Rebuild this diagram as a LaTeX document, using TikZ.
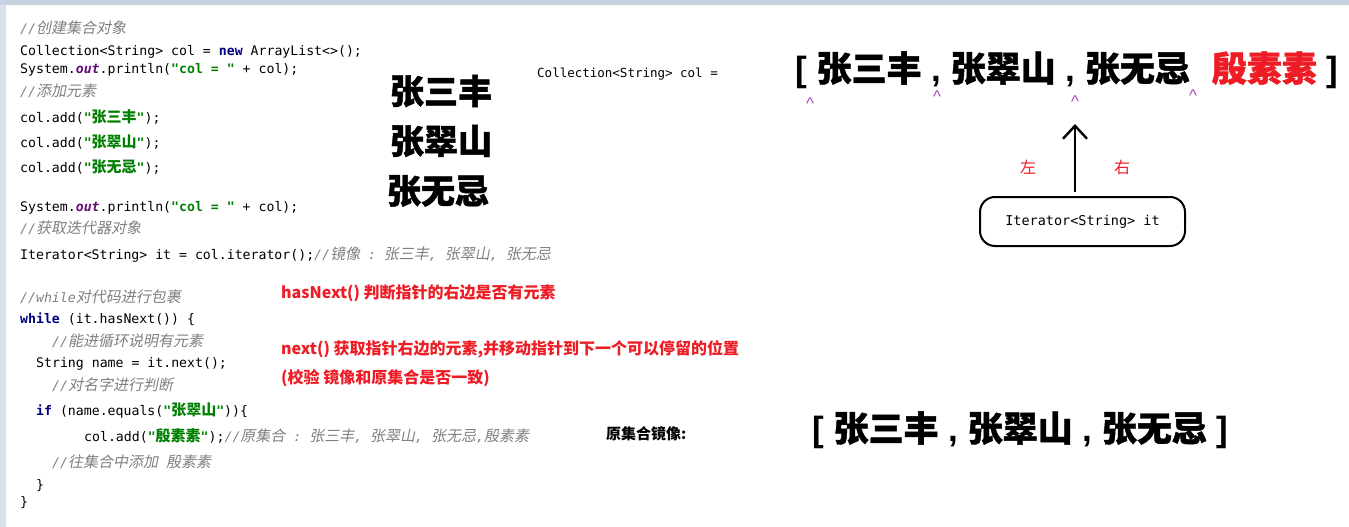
\documentclass[tikz,border=0pt]{standalone}
\usepackage{fontspec}
\usepackage{tikz}
\usetikzlibrary{arrows.meta, positioning}
\usepackage{xcolor}
\setmainfont{Liberation Sans}
\setmonofont{DejaVu Sans Mono}
\newfontfamily\cjk{Noto Sans CJK SC}
\newfontfamily\cjksl{Noto Sans CJK SC}[FakeSlant=0.2]
\newfontfamily\cjkheavy{Noto Sans CJK SC}[BoldFeatures={FakeBold=1.2}]
\definecolor{codegray}{RGB}{128, 128, 128}
\definecolor{kwnavy}{RGB}{0, 0, 128}
\definecolor{fieldpurple}{RGB}{102, 14, 122}
\definecolor{strgreen}{RGB}{0, 128, 0}
\definecolor{notered}{RGB}{238, 28, 36}
\definecolor{caretpurple}{RGB}{176, 72, 196}
\definecolor{bandtop}{RGB}{199, 209, 224}
\definecolor{bandleft}{RGB}{216, 225, 238}

% code colouring
\newcommand{\zh}[1]{{\cjkheavy #1}}
\newcommand{\zc}[1]{{\cjk\fontsize{15}{16}\selectfont #1}}
\newcommand{\zci}[1]{{\cjksl\fontsize{15}{16}\selectfont #1}}
\newcommand{\cmt}[1]{{\color{codegray}\itshape #1}}
\newcommand{\kw}[1]{{\color{kwnavy}\bfseries #1}}
\newcommand{\fld}[1]{{\color{fieldpurple}\bfseries\itshape #1}}
\newcommand{\jstr}[1]{{\color{strgreen}\bfseries #1}}

\begin{document}
\begin{tikzpicture}[x=1pt, y=-1pt]
    % Define styles
    \tikzstyle{codeline} = [anchor=base west, inner sep=0pt, font=\ttfamily\fontsize{13.2}{16}\selectfont]
    \tikzstyle{bigname} = [inner sep=0pt, font=\cjkheavy\bfseries\fontsize{34}{34}\selectfont]
    \tikzstyle{biglist} = [anchor=west, inner sep=0pt, font=\bfseries\fontsize{35}{35}\selectfont]
    \tikzstyle{note} = [anchor=west, inner sep=0pt, text=notered, font=\cjk\bfseries\fontsize{16}{18}\selectfont]
    \tikzstyle{caret} = [anchor=north, inner sep=0pt, text=caretpurple, font=\fontsize{17}{17}\selectfont]
    \tikzstyle{side} = [inner sep=0pt, text=notered, font=\cjk\fontsize{16}{16}\selectfont]
    \tikzstyle{itbox} = [draw, line width=2pt, rounded corners=15pt, minimum width=205pt, minimum height=49pt, font=\ttfamily\fontsize{13.5}{15}\selectfont]

    % Page
    \useasboundingbox (0,0) rectangle (1349,527);
    \fill[white] (0,0) rectangle (1349,527);
    \fill[bandtop] (0,0) rectangle (1349,5);
    \fill[bandleft] (0,5) rectangle (6,527);

    % Code
    \node[codeline] (l1) at (20,34) {\cmt{//\zci{创建集合对象}}};
    \node[codeline] (l2) at (20,56) {Collection<String> col = \kw{new} ArrayList<>();};
    \node[codeline] (l3) at (20,74) {System.\fld{out}.println(\jstr{"col = "} + col);};
    \node[codeline] (l4) at (20,96) {\cmt{//\zci{添加元素}}};
    \node[codeline] (l5) at (20,122) {col.add(\jstr{"\zc{张三丰}"});};
    \node[codeline] (l6) at (20,147) {col.add(\jstr{"\zc{张翠山}"});};
    \node[codeline] (l7) at (20,172) {col.add(\jstr{"\zc{张无忌}"});};
    \node[codeline] (l8) at (20,211) {System.\fld{out}.println(\jstr{"col = "} + col);};
    \node[codeline] (l9) at (20,233) {\cmt{//\zci{获取迭代器对象}}};
    \node[codeline] (l10) at (20,259) {Iterator<String> it = col.iterator();\cmt{//\zci{镜像} : \zci{张三丰}, \zci{张翠山}, \zci{张无忌}}};
    \node[codeline] (l11) at (20,302) {\cmt{//while\zci{对代码进行包裹}}};
    \node[codeline] (l12) at (20,323) {\kw{while} (it.hasNext()) \{};
    \node[codeline] (l13) at (52,346) {\cmt{//\zci{能进循环说明有元素}}};
    \node[codeline] (l14) at (36,367) {String name = it.next();};
    \node[codeline] (l15) at (52,390) {\cmt{//\zci{对名字进行判断}}};
    \node[codeline] (l16) at (36,415) {\kw{if} (name.equals(\jstr{"\zc{张翠山}"}))\{};
    \node[codeline] (l17) at (84,441) {col.add(\jstr{"\zc{殷素素}"});\cmt{//\zci{原集合} : \zci{张三丰}, \zci{张翠山}, \zci{张无忌},\zci{殷素素}}};
    \node[codeline] (l18) at (52,467) {\cmt{//\zci{往集合中添加} \zci{殷素素}}};
    \node[codeline] (l19) at (36,489) {\}};
    \node[codeline] (l20) at (20,506) {\}};

    % Names added
    \node[bigname] (n1) at (441,91) {张三丰};
    \node[bigname] (n2) at (441,141) {张翠山};
    \node[bigname] (n3) at (438,191) {张无忌};

    % Collection and pointer
    \node[anchor=west, inner sep=0pt, font=\ttfamily\fontsize{12.5}{14}\selectfont] (colvar) at (537,74) {Collection<String> col =};
    \node[biglist] (orig) at (795,70) {[ \zh{张三丰} , \zh{张翠山} , \zh{张无忌}\hspace{22pt}{\color{notered}\zh{殷素素}} ]};
    \node[caret] (p0) at (810,98) {\textasciicircum};
    \node[caret] (p1) at (937,91) {\textasciicircum};
    \node[caret] (p2) at (1075,96) {\textasciicircum};
    \node[caret] (p3) at (1193,90) {\textasciicircum};
    \node[itbox] (box) at (1082.5,221.5) {Iterator<String> it\hspace{14pt}};
    \coordinate (tip) at (1075,124);
    \draw[line width=2.4pt, -{Straight Barb[length=13pt, width=24pt]}] ([xshift=-7.5pt, yshift=4pt]box.north) -- (tip);
    \node[side] (lft) at (1028,167) {左};
    \node[side] (rgt) at (1122,167) {右};

    % Notes
    \node[note] (hasnext) at (281,293) {hasNext() 判断指针的右边是否有元素};
    \node[note] (nextnote) at (281,349) {next() 获取指针右边的元素,并移动指针到下一个可以停留的位置};
    \node[note] (check) at (281,378) {(校验 镜像和原集合是否一致)};

    % Mirror
    \node[anchor=west, inner sep=0pt, font=\cjk\bfseries\fontsize{15}{15}\selectfont] (mirrorlbl) at (606,434) {原集合镜像:};
    \node[biglist] (mirror) at (812,430) {[ \zh{张三丰} , \zh{张翠山} , \zh{张无忌} ]};
\end{tikzpicture}
\end{document}
